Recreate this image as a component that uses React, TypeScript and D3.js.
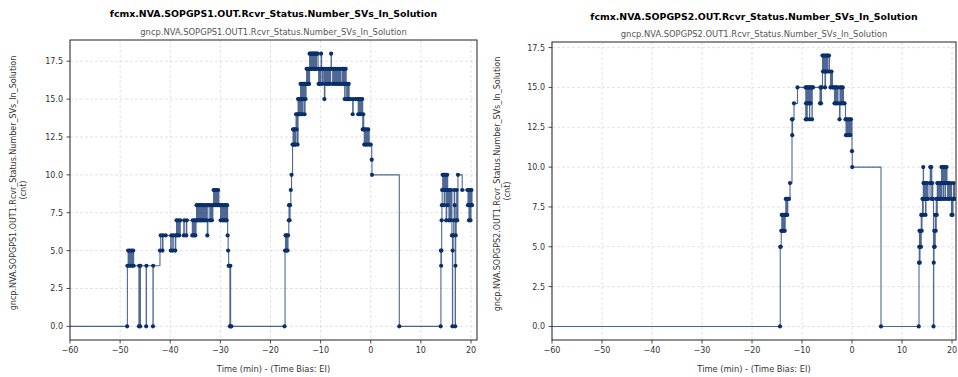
import React from "react";
import * as d3 from "d3";

// ---------- data ----------
const xTickValues = [-60, -50, -40, -30, -20, -10, 0, 10, 20];
const yTickValues1 = [0, 2.5, 5, 7.5, 10, 12.5, 15, 17.5];
const yTickValues2 = [0, 2.5, 5, 7.5, 10, 12.5, 15, 17.5];

const title1 = "fcmx.NVA.SOPGPS1.OUT.Rcvr_Status.Number_SVs_In_Solution";
const subtitle1 = "gncp.NVA.SOPGPS1.OUT1.Rcvr_Status.Number_SVs_In_Solution";
const title2 = "fcmx.NVA.SOPGPS2.OUT.Rcvr_Status.Number_SVs_In_Solution";
const subtitle2 = "gncp.NVA.SOPGPS2.OUT1.Rcvr_Status.Number_SVs_In_Solution";
const xLabel = "Time (min) - (Time Bias: EI)";
const yUnit = "(cnt)";

// [time (min), number of SVs]
const gps1Samples: [number, number][] = [
  [-62, 0],
  [-48.6, 0], [-48.55, 4], [-48.4, 5], [-48.3, 4], [-48.1, 5], [-47.95, 4], [-47.75, 5], [-47.6, 4], [-47.4, 5], [-47.3, 4],
  [-46.25, 0], [-46.2, 4], [-46.0, 0], [-45.95, 4],
  [-44.8, 0], [-44.75, 4],
  [-43.45, 0], [-43.4, 4],
  [-42.05, 5], [-41.9, 6], [-41.55, 5], [-41.45, 6], [-40.9, 6],
  [-39.9, 5], [-39.8, 6], [-39.5, 5], [-39.4, 6], [-39.0, 5], [-38.9, 6],
  [-38.75, 7], [-38.6, 6], [-38.4, 7], [-38.2, 6], [-38.0, 7],
  [-37.3, 6], [-37.2, 7], [-36.8, 6], [-36.7, 7],
  [-35.6, 6], [-35.5, 7], [-35.3, 6], [-35.15, 7], [-35.0, 6], [-34.85, 7],
  [-34.75, 8], [-34.6, 7], [-34.45, 8], [-34.3, 7], [-34.15, 8], [-34.0, 7], [-33.85, 8], [-33.7, 7], [-33.55, 8], [-33.4, 7],
  [-33.25, 8], [-33.1, 7], [-32.9, 8], [-32.75, 7], [-32.6, 6], [-32.5, 8], [-32.3, 8], [-32.1, 7], [-31.9, 8], [-31.7, 7], [-31.5, 8],
  [-31.35, 9], [-31.2, 8], [-31.05, 9], [-30.9, 8], [-30.75, 9], [-30.6, 8], [-30.45, 9], [-30.3, 8],
  [-30.1, 8], [-29.95, 7], [-29.8, 8], [-29.6, 7], [-29.45, 8], [-29.3, 7], [-29.15, 8],
  [-29.0, 7], [-28.9, 8], [-28.75, 7], [-28.65, 8], [-28.55, 6], [-28.45, 5], [-28.35, 4], [-28.2, 4], [-28.1, 0], [-28.0, 4], [-27.95, 0], [-27.8, 0],
  [-17.2, 0], [-17.1, 5], [-17.0, 6], [-16.85, 5], [-16.75, 6], [-16.6, 5], [-16.5, 6],
  [-16.35, 7], [-16.3, 8], [-16.2, 7], [-16.1, 8], [-15.95, 9], [-15.8, 10],
  [-15.6, 12], [-15.5, 13], [-15.4, 12], [-15.3, 13], [-15.2, 12], [-15.1, 13], [-15.0, 12], [-14.9, 14], [-14.8, 13], [-14.7, 14], [-14.6, 12],
  [-14.5, 15], [-14.4, 14], [-14.3, 15], [-14.2, 14], [-14.1, 15], [-14.0, 16], [-13.9, 14], [-13.8, 15], [-13.7, 16], [-13.6, 14], [-13.5, 16],
  [-13.4, 15], [-13.3, 16], [-13.2, 14], [-13.1, 16], [-13.0, 15], [-12.9, 16], [-12.8, 17], [-12.7, 16], [-12.6, 17], [-12.5, 16], [-12.4, 17], [-12.3, 16],
  [-12.2, 18], [-12.1, 17], [-12.0, 18], [-11.9, 17], [-11.8, 18], [-11.7, 17], [-11.6, 18], [-11.5, 17], [-11.4, 18], [-11.3, 17], [-11.2, 18],
  [-11.1, 17], [-11.0, 18], [-10.9, 17], [-10.8, 18], [-10.6, 18], [-10.5, 17], [-10.4, 16], [-10.3, 17], [-10.2, 16], [-10.0, 17], [-9.9, 18],
  [-9.8, 17], [-9.7, 16], [-9.5, 17], [-9.25, 15], [-9.15, 17], [-9.0, 16], [-8.8, 17], [-8.6, 16], [-8.4, 17], [-8.2, 16], [-8.0, 17], [-7.9, 18],
  [-7.85, 17], [-7.6, 16], [-7.4, 17], [-7.2, 16], [-7.0, 17], [-6.8, 16], [-6.6, 17], [-6.4, 16], [-6.2, 17], [-6.0, 16],
  [-5.7, 17], [-5.6, 16], [-5.5, 17], [-5.4, 16], [-5.3, 17], [-5.2, 15], [-5.1, 16], [-5.0, 17], [-4.9, 16], [-4.8, 15], [-4.7, 16], [-4.5, 15],
  [-4.4, 16], [-4.3, 15], [-4.0, 15], [-3.6, 14], [-3.5, 15], [-3.0, 15],
  [-2.6, 15], [-2.5, 14], [-2.3, 15], [-2.2, 14], [-2.0, 15], [-1.9, 14], [-1.7, 15], [-1.6, 13], [-1.5, 14], [-1.4, 13], [-1.3, 12], [-1.2, 13],
  [-1.0, 12], [-0.9, 13], [-0.7, 12], [-0.5, 13], [-0.3, 12], [0.0, 12], [0.2, 11], [0.25, 10],
  [5.7, 0],
  [13.95, 0], [14.0, 5], [14.05, 4], [14.1, 5], [14.15, 7], [14.2, 8], [14.25, 9], [14.35, 10], [14.45, 9], [14.55, 10], [14.65, 8], [14.75, 10],
  [14.85, 9], [14.95, 10], [15.05, 7], [15.15, 9], [15.25, 10], [15.35, 8], [15.45, 9], [15.6, 7], [15.75, 9], [15.9, 7], [16.0, 9],
  [16.2, 6], [16.3, 0], [16.35, 5], [16.45, 6], [16.55, 7], [16.65, 9], [16.75, 8], [16.85, 0], [16.9, 4], [16.95, 6], [17.05, 7], [17.15, 9], [17.25, 7],
  [17.4, 10], [18.25, 9], [19.3, 9], [19.4, 8], [19.5, 9], [19.6, 7], [19.7, 8], [19.8, 9], [19.9, 7], [20.0, 8], [20.1, 9], [20.2, 8],
];

const gps2Samples: [number, number][] = [
  [-62, 0],
  [-14.4, 0], [-14.35, 5], [-14.25, 5], [-14.15, 6], [-14.05, 7], [-13.95, 6], [-13.85, 7], [-13.7, 6], [-13.6, 7], [-13.45, 6], [-13.35, 7],
  [-13.25, 8], [-13.15, 7], [-13.05, 8], [-12.95, 7], [-12.85, 8], [-12.6, 8], [-12.4, 9], [-12.0, 13], [-11.95, 12], [-11.9, 13], [-11.6, 14], [-10.9, 15],
  [-9.3, 15], [-9.25, 13], [-9.2, 14], [-9.1, 15], [-9.0, 13], [-8.95, 14], [-8.85, 15], [-8.75, 14], [-8.65, 15], [-8.5, 13], [-8.45, 14], [-8.4, 15],
  [-8.3, 14], [-8.2, 15], [-8.0, 13], [-7.95, 15], [-7.8, 15],
  [-6.4, 14], [-6.3, 15], [-6.2, 14], [-6.1, 15], [-5.9, 17], [-5.8, 16], [-5.7, 17], [-5.6, 16], [-5.5, 17], [-5.4, 15], [-5.3, 16], [-5.2, 17],
  [-5.1, 16], [-5.0, 17], [-4.9, 16], [-4.8, 17], [-4.6, 17], [-4.5, 16], [-4.3, 15], [-4.1, 16], [-3.9, 15], [-3.7, 15],
  [-3.5, 14], [-3.4, 15], [-3.3, 14], [-3.2, 15], [-3.05, 14], [-2.9, 15], [-2.8, 14], [-2.5, 13], [-2.4, 15], [-2.3, 14], [-2.15, 15], [-2.0, 14],
  [-1.85, 15], [-1.7, 14], [-1.5, 14],
  [-1.3, 13], [-1.2, 12], [-1.1, 13], [-0.95, 12], [-0.8, 13], [-0.65, 12], [-0.5, 13], [-0.35, 12], [-0.2, 13], [0.0, 11], [0.05, 10],
  [5.8, 0],
  [13.35, 0], [13.4, 4], [13.45, 5], [13.5, 6], [13.55, 4], [13.6, 6], [13.65, 5], [13.75, 6], [13.8, 5], [13.85, 7], [13.95, 6], [14.0, 7],
  [14.1, 8], [14.2, 7], [14.25, 10], [14.3, 9], [14.4, 8], [14.5, 9], [14.6, 8], [14.7, 7], [14.8, 9], [14.9, 8], [15.0, 9], [15.2, 8],
  [15.6, 9], [15.65, 10], [15.75, 9], [15.85, 10], [15.95, 8], [16.05, 9], [16.15, 8], [16.3, 0], [16.35, 4], [16.4, 5], [16.45, 6], [16.55, 5],
  [16.65, 7], [16.75, 6], [16.85, 8], [16.95, 7], [17.05, 9], [17.15, 8], [17.25, 9], [17.35, 8], [17.5, 9], [17.6, 8], [17.7, 9], [17.8, 8],
  [17.9, 10], [18.0, 9], [18.1, 10], [18.2, 8], [18.3, 10], [18.4, 9], [18.5, 10], [18.6, 8], [18.7, 10], [18.8, 9], [18.9, 10], [19.0, 9],
  [19.1, 8], [19.3, 9], [19.5, 8], [19.7, 9], [19.9, 7], [20.0, 8], [20.1, 7], [20.2, 8], [20.3, 9], [20.5, 8],
];

// ---------- styling ----------
const FONT = "'DejaVu Sans', sans-serif";
const SERIES_COLOR = "#0b2f6b";

type PanelProps = {
  id: string;
  samples: [number, number][];
  title: string;
  subtitle: string;
  yLabel: string;
  box: { left: number; right: number; top: number; bottom: number };
  xDomain: [number, number];
  yDomain: [number, number];
  yTicks: number[];
  titleY: number;
  subtitleY: number;
  yLabelX: number;
};

function Panel(p: PanelProps) {
  const { box } = p;
  const x = d3.scaleLinear().domain(p.xDomain).range([box.left, box.right]);
  const y = d3.scaleLinear().domain(p.yDomain).range([box.bottom, box.top]);
  const line = d3
    .line<[number, number]>()
    .x((d) => x(d[0]))
    .y((d) => y(d[1]))
    .curve(d3.curveStepAfter);
  const fx = d3.format("d");
  const fy = d3.format(".1f");
  const cx = (box.left + box.right) / 2;
  const cy = (box.top + box.bottom) / 2;
  const clipId = `clip-${p.id}`;
  return (
    <g>
      <defs>
        <clipPath id={clipId}>
          <rect x={box.left} y={box.top} width={box.right - box.left} height={box.bottom - box.top} />
        </clipPath>
      </defs>
      {/* grid */}
      {xTickValues.map((t) => (
        <line key={`gx${t}`} x1={x(t)} x2={x(t)} y1={box.top} y2={box.bottom} stroke="#dcdcdc" strokeWidth={0.8} strokeDasharray="3,2" />
      ))}
      {p.yTicks.map((t) => (
        <line key={`gy${t}`} x1={box.left} x2={box.right} y1={y(t)} y2={y(t)} stroke="#dcdcdc" strokeWidth={0.8} strokeDasharray="3,2" />
      ))}
      {/* series */}
      <g clipPath={`url(#${clipId})`}>
        <path d={line(p.samples) || ""} fill="none" stroke={SERIES_COLOR} strokeOpacity={0.72} strokeWidth={1.1} />
        {p.samples.map((d, i) => (
          <circle key={i} cx={x(d[0])} cy={y(d[1])} r={2.1} fill={SERIES_COLOR} />
        ))}
      </g>
      {/* frame */}
      <rect x={box.left} y={box.top} width={box.right - box.left} height={box.bottom - box.top} fill="none" stroke="#222" strokeWidth={1} />
      {/* x ticks */}
      {xTickValues.map((t) => (
        <g key={`tx${t}`}>
          <line x1={x(t)} x2={x(t)} y1={box.bottom} y2={box.bottom + 3.5} stroke="#222" strokeWidth={0.8} />
          <text x={x(t)} y={box.bottom + 12.5} textAnchor="middle" fontFamily={FONT} fontSize={8} fill="#333">
            {fx(t)}
          </text>
        </g>
      ))}
      {/* y ticks */}
      {p.yTicks.map((t) => (
        <g key={`ty${t}`}>
          <line x1={box.left - 3.5} x2={box.left} y1={y(t)} y2={y(t)} stroke="#222" strokeWidth={0.8} />
          <text x={box.left - 7} y={y(t) + 3} textAnchor="end" fontFamily={FONT} fontSize={8} fill="#333">
            {fy(t)}
          </text>
        </g>
      ))}
      {/* titles */}
      <text x={cx} y={p.titleY} textAnchor="middle" fontFamily={FONT} fontSize={9.4} fontWeight="bold" fill="#000">
        {p.title}
      </text>
      <text x={cx} y={p.subtitleY} textAnchor="middle" fontFamily={FONT} fontSize={8.4} fill="#555">
        {p.subtitle}
      </text>
      {/* axis labels */}
      <text x={cx} y={372} textAnchor="middle" fontFamily={FONT} fontSize={8.3} fill="#333">
        {xLabel}
      </text>
      <text transform={`translate(${p.yLabelX},${cy - 7}) rotate(-90)`} textAnchor="middle" fontFamily={FONT} fontSize={8} fill="#333">
        {p.yLabel}
      </text>
      <text transform={`translate(${p.yLabelX + 10},${cy}) rotate(-90)`} textAnchor="middle" fontFamily={FONT} fontSize={8} fill="#333">
        {yUnit}
      </text>
    </g>
  );
}

export default function App() {
  return (
    <svg width={958} height={377} style={{ position: "absolute", left: 0, top: 0, background: "#fff" }}>
      <rect x={0} y={0} width={958} height={377} fill="#fff" />
      <Panel
        id="p1"
        samples={gps1Samples}
        title={title1}
        subtitle={subtitle1}
        yLabel={subtitle1}
        box={{ left: 70, right: 477, top: 40, bottom: 340 }}
        xDomain={[-60, 21.2]}
        yDomain={[-0.9, 18.9]}
        yTicks={yTickValues1}
        titleY={16.5}
        subtitleY={34.5}
        yLabelX={16}
      />
      <Panel
        id="p2"
        samples={gps2Samples}
        title={title2}
        subtitle={subtitle2}
        yLabel={subtitle2}
        box={{ left: 552, right: 956, top: 42, bottom: 340 }}
        xDomain={[-60, 20.8]}
        yDomain={[-0.85, 17.85]}
        yTicks={yTickValues2}
        titleY={19.5}
        subtitleY={37}
        yLabelX={500}
      />
    </svg>
  );
}
